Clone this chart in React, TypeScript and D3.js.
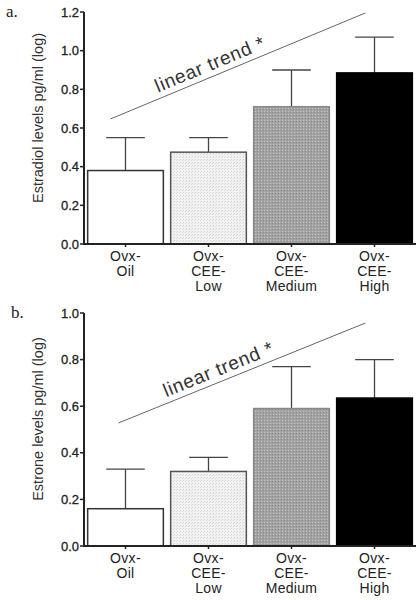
import React from "react";
import * as d3 from "d3";

const categories = [["Ovx-", "Oil"], ["Ovx-", "CEE-", "Low"], ["Ovx-", "CEE-", "Medium"], ["Ovx-", "CEE-", "High"]];
const estradiolMeans = [0.38, 0.475, 0.71, 0.885];
const estradiolErrTop = [0.55, 0.55, 0.90, 1.07];
const estroneMeans = [0.16, 0.32, 0.59, 0.635];
const estroneErrTop = [0.33, 0.38, 0.77, 0.80];
const estradiolTicks = [0, 0.2, 0.4, 0.6, 0.8, 1.0, 1.2];
const estroneTicks = [0, 0.2, 0.4, 0.6, 0.8, 1.0];
// trend annotation endpoints in data units: [category index, value]
const estradiolTrend = [[-0.18, 0.647], [2.89, 1.195]];
const estroneTrend = [[-0.085, 0.528], [2.89, 0.957]];

const fills = ["#ffffff", "url(#patLight)", "url(#patMed)", "#000000"];
const strokes = ["#333", "#555", "#888", "#000"];

const FONT = "'Liberation Sans', Arial, sans-serif";

function Panel({ label, title, means, errs, ticks, yMax, top, bottom, trend, titleCenter }) {
  const x = d3.scaleBand().domain(d3.range(4).map(String)).range([84, 416]).paddingInner(0.07).paddingOuter(0.035);
  const y = d3.scaleLinear().domain([0, yMax]).range([bottom, top]);
  const idx = d3.scaleLinear().domain([0, 1]).range([x("0") + x.bandwidth() / 2, x("1") + x.bandwidth() / 2]);
  const bw = x.bandwidth();
  const x1 = idx(trend[0][0]), y1 = y(trend[0][1]);
  const x2 = idx(trend[1][0]), y2 = y(trend[1][1]);
  const ang = (Math.atan2(y2 - y1, x2 - x1) * 180) / Math.PI;
  const len = Math.hypot(x2 - x1, y2 - y1);
  const ux = (x2 - x1) / len, uy = (y2 - y1) / len;
  const tdist = 54;
  const tx = x1 + ux * tdist + uy * 6;
  const ty = y1 + uy * tdist - ux * 6;
  return (
    <g>
      <text x={label.x} y={label.y} fontFamily="'Liberation Serif', 'DejaVu Serif', serif" fontSize={17} fill="#222">{label.t}</text>
      <text transform={`translate(43,${titleCenter}) rotate(-90)`} textAnchor="middle" fontFamily={FONT} fontSize={14.5} fill="#333">{title}</text>
      {means.map((m, i) => {
        const bx = x(String(i));
        const cx = bx + bw / 2;
        return (
          <g key={i}>
            <line x1={cx} x2={cx} y1={y(m)} y2={y(errs[i])} stroke="#444" strokeWidth={1.3} />
            <line x1={cx - bw / 4} x2={cx + bw / 4} y1={y(errs[i])} y2={y(errs[i])} stroke="#444" strokeWidth={1.3} />
            <rect x={bx + 0.75} y={y(m)} width={bw - 1.5} height={bottom - y(m)} fill={fills[i]} stroke={strokes[i]} strokeWidth={1.5} />
          </g>
        );
      })}
      <line x1={84} x2={84} y1={top} y2={bottom} stroke="#222" strokeWidth={2} />
      <line x1={83} x2={416} y1={bottom} y2={bottom} stroke="#222" strokeWidth={2} />
      {ticks.map((t) => (
        <g key={t}>
          <line x1={80} x2={84} y1={y(t)} y2={y(t)} stroke="#222" strokeWidth={1.5} />
          <text x={79} y={y(t) + 4.5} textAnchor="end" fontFamily={FONT} fontSize={13} fill="#222" stroke="#222" strokeWidth={0.3}>{t.toFixed(1)}</text>
        </g>
      ))}
      {categories.map((c, i) => {
        const cx = x(String(i)) + bw / 2;
        return (
          <g key={i}>
            <line x1={cx} x2={cx} y1={bottom} y2={bottom + 3} stroke="#222" strokeWidth={1.5} />
            {c.map((s, j) => (
              <text key={j} x={cx} y={bottom + 17 + j * 15} textAnchor="middle" fontFamily={FONT} fontSize={14} letterSpacing={0.3} fill="#222">{s}</text>
            ))}
          </g>
        );
      })}
      <line x1={x1} y1={y1} x2={x2} y2={y2} stroke="#666" strokeWidth={1} />
      <text transform={`translate(${tx},${ty}) rotate(${ang})`} fontFamily={FONT} fontSize={19} letterSpacing={0.7} fill="#333">linear trend *</text>
    </g>
  );
}

export default function App() {
  return (
    <svg width={419} height={600} style={{ position: "absolute", left: 0, top: 0, background: "#fff" }}>
      <defs>
        <pattern id="patLight" width="3" height="3" patternUnits="userSpaceOnUse">
          <rect width="3" height="3" fill="#f2f2f2" />
          <rect width="1" height="1" fill="#d2d2d2" />
          <rect x="2" y="1" width="1" height="1" fill="#dcdcdc" />
        </pattern>
        <pattern id="patMed" width="3" height="3" patternUnits="userSpaceOnUse">
          <rect width="3" height="3" fill="#a2a2a2" />
          <rect width="1" height="1" fill="#c4c4c4" />
          <rect x="2" y="1" width="1" height="1" fill="#8c8c8c" />
        </pattern>
      </defs>
      <Panel label={{ t: "a.", x: 6, y: 17 }} title="Estradiol levels pg/ml (log)" means={estradiolMeans} errs={estradiolErrTop}
        ticks={estradiolTicks} yMax={1.2} top={12} bottom={244} trend={estradiolTrend} titleCenter={118} />
      <Panel label={{ t: "b.", x: 11, y: 318 }} title="Estrone levels pg/ml (log)" means={estroneMeans} errs={estroneErrTop}
        ticks={estroneTicks} yMax={1.0} top={313} bottom={546} trend={estroneTrend} titleCenter={419} />
    </svg>
  );
}
